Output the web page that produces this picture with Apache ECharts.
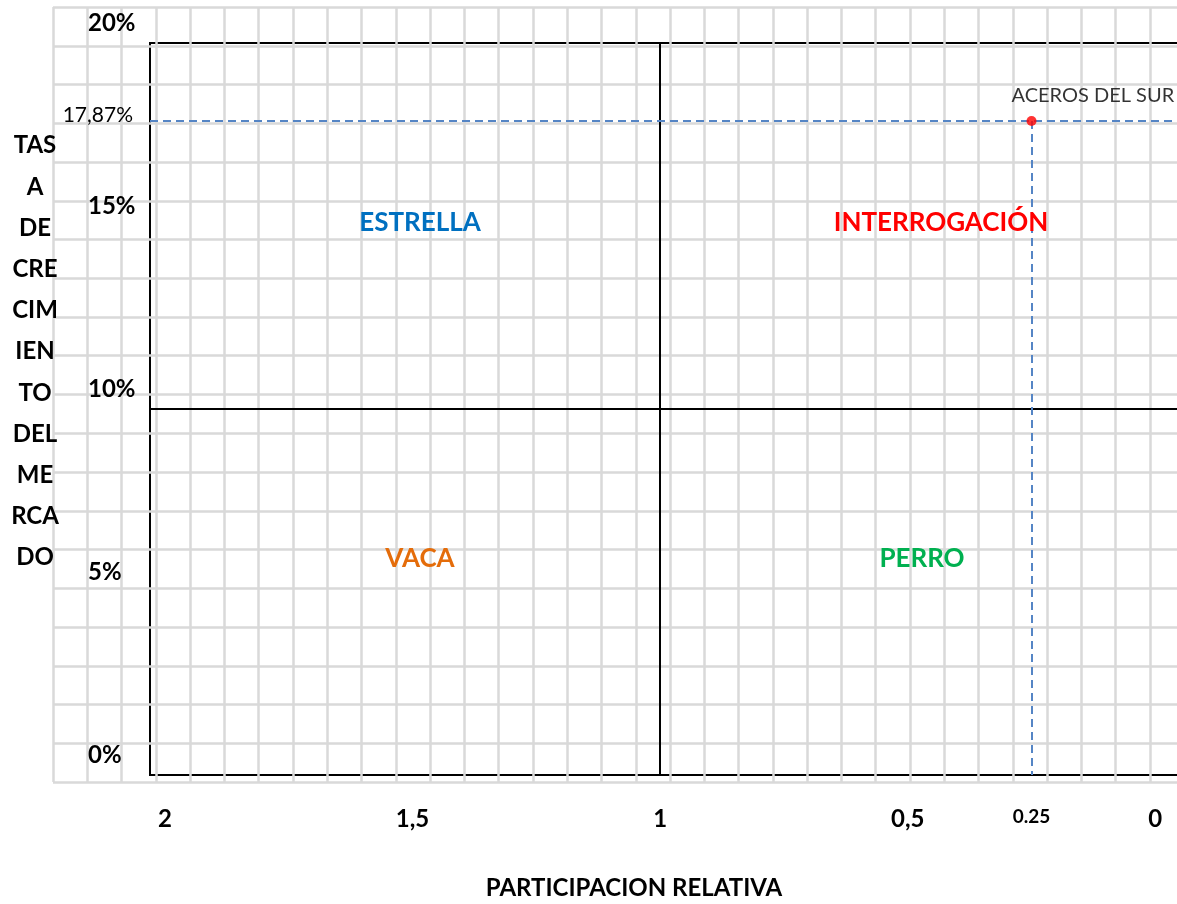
<!DOCTYPE html>
<html>
<head>
<meta charset="utf-8">
<script src="https://cdn.jsdelivr.net/npm/echarts@6/dist/echarts.min.js"></script>
<style>
  html, body { margin: 0; padding: 0; background: #fff; }
  #chart { width: 1177px; height: 904px; }
</style>
</head>
<body>
<div id="chart"></div>
<script>
// BCG matrix: relative market share vs. market growth rate
const xTickValues = [2, 1.5, 1, 0.5, 0.25, 0];
const xTickLabels = ['2', '1,5', '1', '0,5', '0.25', '0'];
const yTickValues = [0, 5, 10, 15, 20];
const yTickLabels = ['0%', '5%', '10%', '15%', '20%'];

const companies = ['ACEROS DEL SUR'];
const shareValues = [0.25];
const growthValues = [17.87];

const shareDivider = 1;
const growthDivider = 10;

const quadrantNames = ['ESTRELLA', 'INTERROGACIÓN', 'VACA', 'PERRO'];
const axisTitleX = 'PARTICIPACION RELATIVA';
const axisTitleY = ['TAS', 'A', 'DE', 'CRE', 'CIM', 'IEN', 'TO', 'DEL', 'ME', 'RCA', 'DO'];

const FONT = 'Lato, "Noto Sans", sans-serif';
const fmtPct = v => v.toFixed(2).replace('.', ',') + '%';

const points = companies.map((n, i) => ({ name: n, value: [shareValues[i], growthValues[i]] }));

const chart = echarts.init(document.getElementById('chart'), null, { renderer: 'canvas' });

chart.setOption({
  animation: false,
  backgroundColor: '#ffffff',
  textStyle: { fontFamily: FONT },
  grid: [
    // spreadsheet cell lines behind the matrix
    { left: 53, top: 7, width: 1131.24, height: 775, show: false, outerBoundsMode: 'none' },
    // the matrix itself (its right edge runs past the page)
    { left: 150, top: 43, width: 1040, height: 732, show: true, outerBoundsMode: 'none',
      borderColor: '#000', borderWidth: 2, backgroundColor: 'transparent' }
  ],
  xAxis: [
    { gridIndex: 0, type: 'value', min: 0, max: 33, interval: 1,
      axisLine: { show: false }, axisTick: { show: false }, axisLabel: { show: false },
      splitLine: { show: true, lineStyle: { color: '#d9d9d9', width: 2.5 } } },
    { gridIndex: 1, type: 'value', inverse: true, min: -0.07, max: 2.03,
      axisLine: { show: false }, axisTick: { show: false }, splitLine: { show: false },
      axisLabel: {
        customValues: xTickValues,
        margin: 32,
        verticalAlign: 'top',
        formatter: v => {
          const i = xTickValues.indexOf(v);
          const t = i < 0 ? '' : xTickLabels[i];
          return v === 0.25 ? '{s|' + t + '}' : '{b|' + t + '}';
        },
        rich: {
          b: { fontFamily: FONT, fontWeight: 'bold', fontSize: 24, color: '#000' },
          s: { fontFamily: FONT, fontWeight: 'bold', fontSize: 19, color: '#000', lineHeight: 12, verticalAlign: 'top' }
        }
      },
      name: axisTitleX,
      nameLocation: 'middle',
      nameGap: 101,
      nameTextStyle: { fontFamily: FONT, fontWeight: 'bold', fontSize: 24, color: '#000',
        padding: [0, 72, 0, 0] }
    }
  ],
  yAxis: [
    { gridIndex: 0, type: 'value', min: 0, max: 20, interval: 1,
      axisLine: { show: false }, axisTick: { show: false }, axisLabel: { show: false },
      splitLine: { show: true, lineStyle: { color: '#d9d9d9', width: 2.5 } } },
    { gridIndex: 1, type: 'value', min: 0, max: 20,
      axisLine: { show: false }, axisTick: { show: false }, splitLine: { show: false },
      axisLabel: {
        customValues: yTickValues,
        margin: 62,
        align: 'left',
        verticalAlign: 'bottom',
        lineHeight: 40,
        fontFamily: FONT, fontWeight: 'bold', fontSize: 24, color: '#000',
        formatter: v => {
          const i = yTickValues.indexOf(v);
          return i < 0 ? '' : yTickLabels[i];
        }
      }
    }
  ],
  graphic: [
    { type: 'text', x: 35, y: 125, z: 10,
      style: { text: axisTitleY.join('\n'), fill: '#000', font: 'bold 24px ' + FONT,
               textAlign: 'center', textVerticalAlign: 'top', lineHeight: 41.2 } },
    { type: 'text', x: 420, y: 223, z: 10,
      style: { text: quadrantNames[0], fill: '#0070C0', font: 'bold 26px ' + FONT, textAlign: 'center', textVerticalAlign: 'middle' } },
    { type: 'text', x: 941, y: 223, z: 10,
      style: { text: quadrantNames[1], fill: '#FF0000', font: 'bold 26px ' + FONT, textAlign: 'center', textVerticalAlign: 'middle' } },
    { type: 'text', x: 420, y: 559, z: 10,
      style: { text: quadrantNames[2], fill: '#E46C0A', font: 'bold 26px ' + FONT, textAlign: 'center', textVerticalAlign: 'middle' } },
    { type: 'text', x: 922, y: 559, z: 10,
      style: { text: quadrantNames[3], fill: '#00B050', font: 'bold 26px ' + FONT, textAlign: 'center', textVerticalAlign: 'middle' } }
  ],
  series: [
    // quadrant dividers
    { type: 'line', xAxisIndex: 1, yAxisIndex: 1, data: [], silent: true,
      markLine: {
        silent: true, symbol: 'none', animation: false,
        label: { show: false },
        lineStyle: { color: '#000', width: 2, type: 'solid' },
        data: [{ xAxis: shareDivider }, { yAxis: growthDivider }]
      }
    },
    // company position with its guide lines
    { type: 'scatter', xAxisIndex: 1, yAxisIndex: 1, z: 5,
      symbol: 'circle', symbolSize: 10,
      itemStyle: { color: '#FF0000' },
      data: points,
      label: {
        show: true, position: 'top', align: 'left', distance: 10, offset: [-20, 0],
        formatter: p => p.name,
        fontFamily: FONT, fontSize: 20, color: '#000'
      },
      markLine: {
        silent: true, symbol: 'none', animation: false,
        lineStyle: { color: '#5585C5', width: 2, type: [8, 5] },
        data: [
          [ { coord: [2.03, growthValues[0]],
              label: { show: true, position: 'start', distance: 17, formatter: fmtPct(growthValues[0]),
                       fontFamily: FONT, fontSize: 21, color: '#000', verticalAlign: 'bottom', lineHeight: 12 } },
            { coord: [-0.07, growthValues[0]] } ],
          [ { coord: [shareValues[0], growthValues[0]], label: { show: false } },
            { coord: [shareValues[0], 0] } ]
        ]
      }
    }
  ]
});
</script>
</body>
</html>
